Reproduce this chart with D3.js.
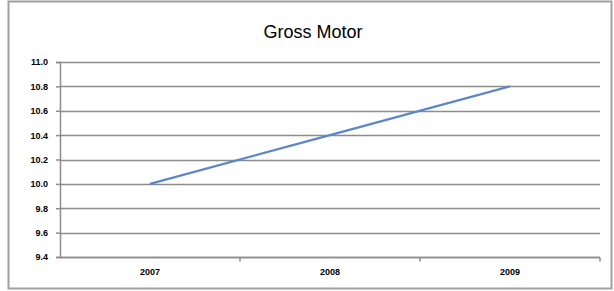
<!DOCTYPE html>
<html>
<head>
<meta charset="utf-8">
<script src="https://cdn.jsdelivr.net/npm/d3@7"></script>
<style>
  body { margin: 0; background: #fff; }
  svg { display: block; font-family: "Liberation Sans", Arial, sans-serif; }
</style>
</head>
<body>
<svg id="chart" width="614" height="291"></svg>
<script>
var TITLE = "Gross Motor";
var categories = ["2007", "2008", "2009"];
var values = [10.0, 10.4, 10.8];
var yTicks = [9.4, 9.6, 9.8, 10.0, 10.2, 10.4, 10.6, 10.8, 11.0];

var GRID_COLOR = "#8c8c8c";
var LINE_COLOR = "#5b87c9";

var svg = d3.select("#chart");

// outer chart border
svg.append("rect")
  .attr("x", 8.5).attr("y", 1.5)
  .attr("width", 603).attr("height", 287)
  .attr("fill", "none")
  .attr("stroke", "#a0a0a0")
  .attr("stroke-width", 2);

var plotLeft = 60, plotRight = 600, plotTop = 62, plotBottom = 257;

var x = d3.scaleBand().domain(categories).range([plotLeft, plotRight]);
var y = d3.scaleLinear().domain([9.4, 11.0]).range([plotBottom, plotTop]);

// gridlines
svg.append("g")
  .selectAll("line")
  .data(yTicks)
  .join("line")
  .attr("x1", plotLeft).attr("x2", plotRight)
  .attr("y1", function(d) { return Math.round(y(d)) + 0.5; })
  .attr("y2", function(d) { return Math.round(y(d)) + 0.5; })
  .attr("stroke", GRID_COLOR)
  .attr("stroke-width", 1.5);

// y axis
var yAxis = d3.axisLeft(y)
  .tickValues(yTicks)
  .tickSize(4)
  .tickFormat(function(d) { return d.toFixed(1); });
var gy = svg.append("g")
  .attr("transform", "translate(" + plotLeft + ",0)")
  .call(yAxis);
gy.select(".domain").attr("stroke", GRID_COLOR).attr("stroke-width", 1.5);
gy.selectAll(".tick line").attr("stroke", GRID_COLOR).attr("stroke-width", 1.5);
gy.selectAll(".tick text")
  .attr("x", -12)
  .attr("fill", "#000")
  .style("font-size", "9px")
  .style("font-weight", "bold");

// x axis, ticks at category boundaries
var gx = svg.append("g")
  .attr("transform", "translate(0," + (Math.round(y(9.4)) + 0.5) + ")");
gx.append("line")
  .attr("x1", plotLeft).attr("x2", plotRight)
  .attr("stroke", GRID_COLOR).attr("stroke-width", 1.5);
gx.selectAll("line.tk")
  .data(categories)
  .join("line")
  .attr("class", "tk")
  .attr("x1", function(d) { return x(d) + x.bandwidth(); })
  .attr("x2", function(d) { return x(d) + x.bandwidth(); })
  .attr("y1", 0).attr("y2", 4)
  .attr("stroke", GRID_COLOR).attr("stroke-width", 1.5);
gx.selectAll("text")
  .data(categories)
  .join("text")
  .attr("x", function(d) { return x(d) + x.bandwidth() / 2; })
  .attr("y", 17)
  .attr("text-anchor", "middle")
  .attr("fill", "#000")
  .style("font-size", "9px")
  .style("font-weight", "bold")
  .text(function(d) { return d; });

// series line
var line = d3.line()
  .x(function(d, i) { return x(categories[i]) + x.bandwidth() / 2; })
  .y(function(d) { return y(d); });
svg.append("path")
  .datum(values)
  .attr("d", line)
  .attr("fill", "none")
  .attr("stroke", LINE_COLOR)
  .attr("stroke-width", 2.25);

// title
svg.append("text")
  .attr("x", 313).attr("y", 38)
  .attr("text-anchor", "middle")
  .attr("fill", "#000")
  .style("font-size", "18px")
  .text(TITLE);
</script>
</body>
</html>
